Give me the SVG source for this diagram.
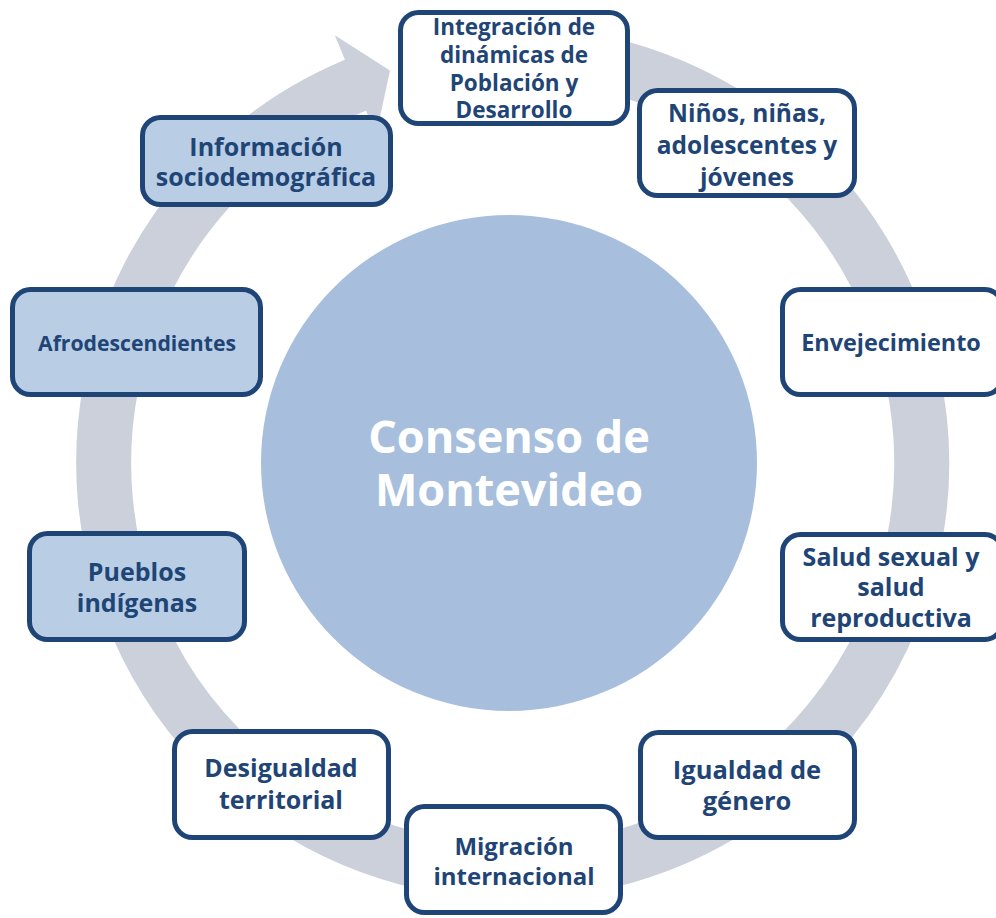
<svg xmlns="http://www.w3.org/2000/svg" width="996" height="918" viewBox="0 0 996 918">
<style>
.box{stroke:#1F4576;stroke-width:5}
.w{fill:#FFFFFF}
.b{fill:#B9CDE5}
.t{font-family:"Open Sans","Noto Sans","DejaVu Sans",sans-serif;font-weight:700;font-size:24px;fill:#1F4576;text-anchor:middle}
.c{font-family:"Open Sans","Noto Sans","DejaVu Sans",sans-serif;font-weight:700;font-size:45px;fill:#FFFFFF;text-anchor:middle}
</style>
<rect width="996" height="918" fill="#FFFFFF"/>
<g id="connectors">
<path d="M427,62.9 A409,409 0 1 1 368.7,80" fill="none" stroke="#CCD0DA" stroke-width="55"/>
<polygon points="334.8,35.2 390,70.5 376.1,135" fill="#CCD0DA"/>
</g>
<g id="center">
<circle cx="509" cy="463" r="248" fill="#A7BFDD"/>
<text class="c" x="509" y="453">Consenso de</text>
<text class="c" x="509" y="506">Montevideo</text>
</g>
<g id="n-integracion">
<rect class="box w" x="400.5" y="12.5" width="227" height="111" rx="18"/>
<text class="t" x="514" y="35" style="font-size:22.5px">Integración de</text>
<text class="t" x="514" y="63" style="font-size:22.5px">dinámicas de</text>
<text class="t" x="514" y="91" style="font-size:22.5px">Población y</text>
<text class="t" x="514" y="118" style="font-size:22.5px">Desarrollo</text>
</g>
<g id="n-ninos">
<rect class="box w" x="639.5" y="90.5" width="215" height="105" rx="18"/>
<text class="t" x="747" y="121.5" style="font-size:24.5px">Niños, niñas,</text>
<text class="t" x="747" y="153.5" style="font-size:24.5px">adolescentes y</text>
<text class="t" x="747" y="185.5" style="font-size:24.5px">jóvenes</text>
</g>
<g id="n-envejecimiento">
<rect class="box w" x="782.5" y="289.5" width="220" height="105" rx="18"/>
<text class="t" x="891" y="351" style="font-size:23.4px">Envejecimiento</text>
</g>
<g id="n-salud">
<rect class="box w" x="782.5" y="534.5" width="220" height="105" rx="18"/>
<text class="t" x="891" y="565.5" style="font-size:25px">Salud sexual y</text>
<text class="t" x="891" y="595.5" style="font-size:25px">salud</text>
<text class="t" x="891" y="626.5" style="font-size:25px">reproductiva</text>
</g>
<g id="n-igualdad">
<rect class="box w" x="640.5" y="732.5" width="214" height="105" rx="18"/>
<text class="t" x="747" y="779" style="font-size:25.5px">Igualdad de</text>
<text class="t" x="747" y="810" style="font-size:25.5px">género</text>
</g>
<g id="n-migracion">
<rect class="box w" x="406.5" y="806.5" width="214" height="106" rx="18"/>
<text class="t" x="514" y="855" style="font-size:24px">Migración</text>
<text class="t" x="514" y="885" style="font-size:24px">internacional</text>
</g>
<g id="n-desigualdad">
<rect class="box w" x="174.5" y="731.5" width="214" height="106" rx="18"/>
<text class="t" x="281" y="776.5" style="font-size:25px">Desigualdad</text>
<text class="t" x="281" y="808.5" style="font-size:25px">territorial</text>
</g>
<g id="n-pueblos">
<rect class="box b" x="29.5" y="533.5" width="215" height="106" rx="18"/>
<text class="t" x="137" y="580.5" style="font-size:25px">Pueblos</text>
<text class="t" x="137" y="611.5" style="font-size:25px">indígenas</text>
</g>
<g id="n-afro">
<rect class="box b" x="12.5" y="289.5" width="248" height="105" rx="18"/>
<text class="t" x="137" y="350.5" style="font-size:21.2px">Afrodescendientes</text>
</g>
<g id="n-informacion">
<rect class="box b" x="142.5" y="117.5" width="248" height="87" rx="18"/>
<text class="t" x="266" y="155.5" style="font-size:25px">Información</text>
<text class="t" x="266" y="185.5" style="font-size:25px">sociodemográfica</text>
</g>
</svg>
